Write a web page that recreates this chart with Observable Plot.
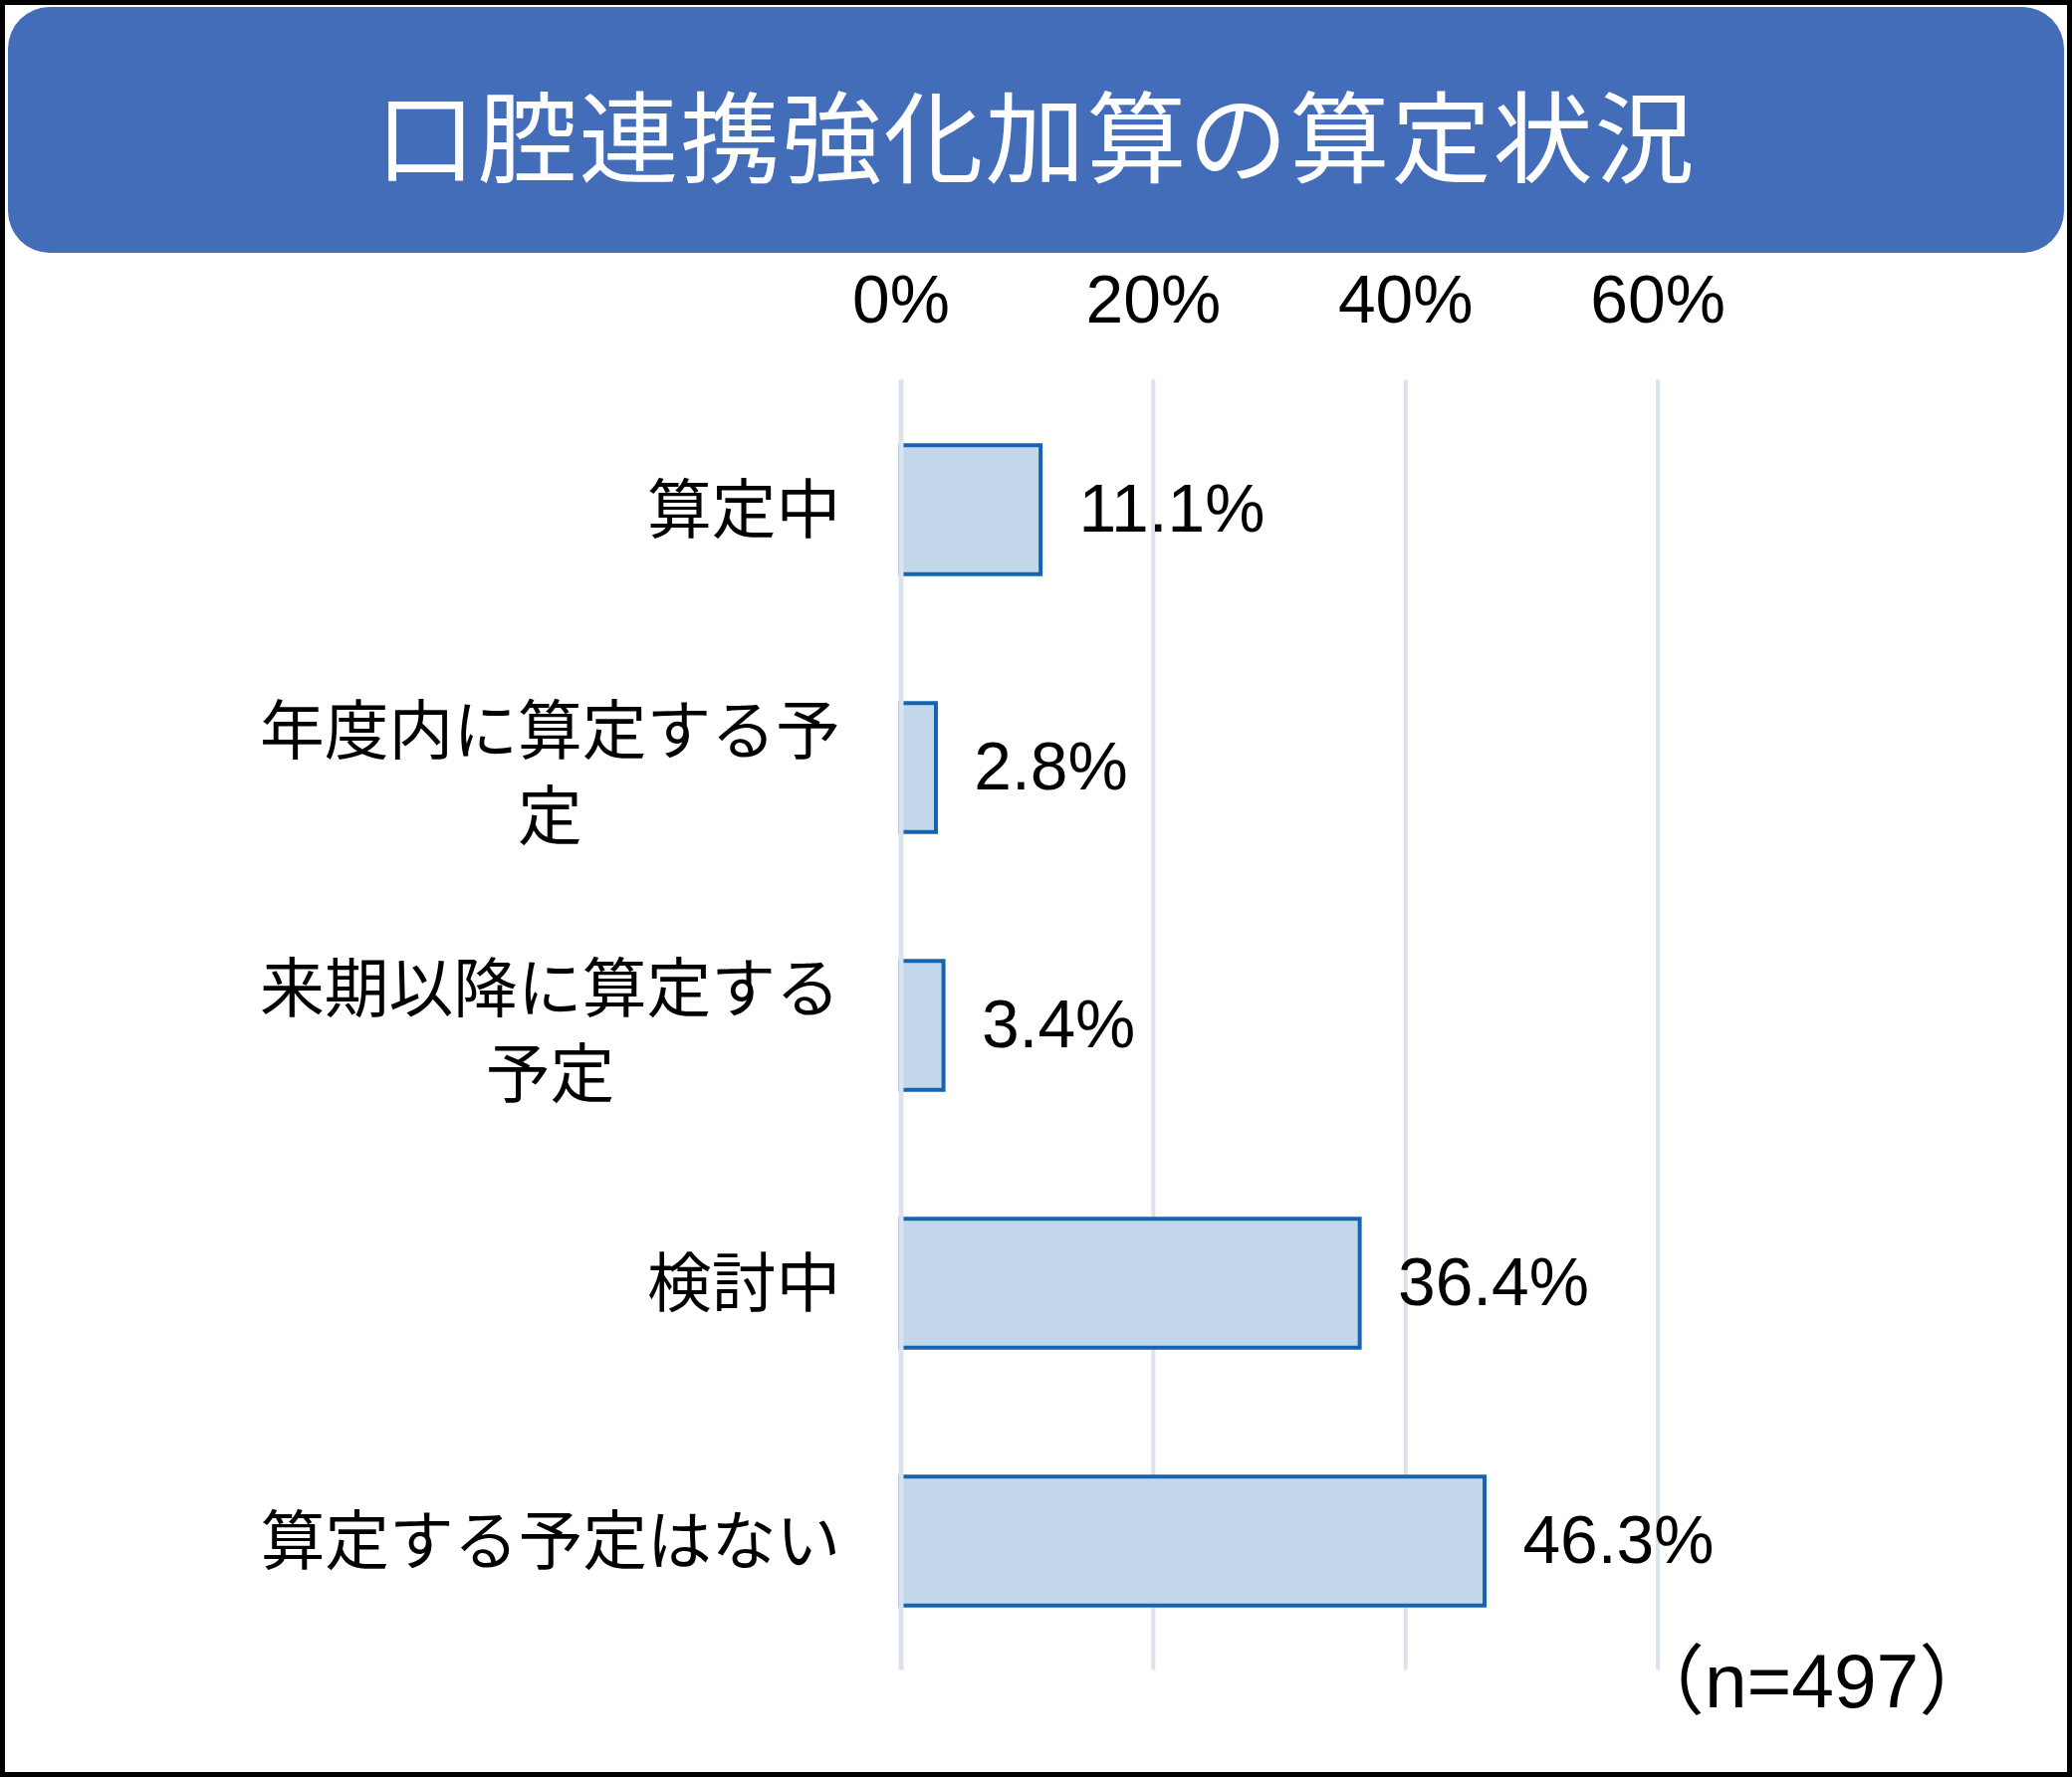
<!DOCTYPE html>
<html>
<head>
<meta charset="utf-8">
<script src="https://cdn.jsdelivr.net/npm/d3@7"></script>
<script src="https://cdn.jsdelivr.net/npm/@observablehq/plot@0.6"></script>
<style>
  html, body { margin: 0; padding: 0; background: #fff; }
  #frame {
    position: relative; width: 2081px; height: 1785px; box-sizing: border-box;
    border: 5px solid #000; background: #fff; overflow: hidden;
  }
  #banner {
    position: absolute; left: 3px; top: 2px; width: 2065px; height: 247px;
    background: #436CB9; border-radius: 42px;
    display: flex; align-items: center; justify-content: center;
    color: #fff; font-family: "Noto Sans CJK JP", sans-serif; font-size: 100px;
    letter-spacing: 2px; padding-top: 4px; box-sizing: border-box;
  }
  #chart { position: absolute; left: -2px; top: 250px; }
</style>
</head>
<body>
<div id="frame">
  <div id="banner">口腔連携強化加算の算定状況</div>
  <div id="chart"></div>
</div>
<script>
const categories = ["算定中", "年度内に算定する予定", "来期以降に算定する予定", "検討中", "算定する予定はない"];
const values = [11.1, 2.8, 3.4, 36.4, 46.3];
const labelLines = ["算定中", "年度内に算定する予\n定", "来期以降に算定する\n予定", "検討中", "算定する予定はない"];
const xTicks = [0, 20, 40, 60];
const note = "（n=497）";

const data = categories.map((c, i) => ({cat: c, value: values[i], label: labelLines[i]}));
const single = data.filter(d => !d.label.includes("\n"));
const multi = data.filter(d => d.label.includes("\n"));

const latin = "'Liberation Sans', Arial, 'Noto Sans CJK JP', sans-serif";
const cjk = "'Noto Sans CJK JP', sans-serif";
const gridColor = "#DCE2EB";

const chart = Plot.plot({
  width: 2081,
  height: 1525,
  marginLeft: 905,
  marginRight: 413,
  marginTop: 127,
  marginBottom: 97,
  style: {background: "transparent", fontFamily: latin, color: "#000"},
  x: {domain: [0, 60], label: null},
  y: {type: "band", domain: categories, paddingInner: 0.5, paddingOuter: 0.25, axis: null, label: null},
  marks: [
    Plot.gridX(xTicks, {stroke: gridColor, strokeOpacity: 1, strokeWidth: 4}),
    Plot.axisX(xTicks, {anchor: "top", tickSize: 0, tickPadding: 58, fontSize: 68, label: null,
      tickFormat: d => d + "%", fill: "#000", fontFamily: latin}),
    Plot.barX(data, {x: "value", y: "cat", fill: "#C3D7EB", stroke: "#1664B1", strokeWidth: 4}),
    Plot.ruleX([0], {stroke: gridColor, strokeWidth: 5}),
    Plot.text(data, {x: "value", y: "cat", text: d => d.value.toFixed(1) + "%",
      textAnchor: "start", dx: 38, fontSize: 68, fill: "#000", fontFamily: latin}),
    Plot.text(single, {y: "cat", frameAnchor: "left", text: "label", textAnchor: "end",
      dx: -61, dy: 2, fontSize: 65, fill: "#000", fontFamily: cjk}),
    Plot.text(multi, {y: "cat", frameAnchor: "left", text: "label", textAnchor: "middle",
      lineAnchor: "middle", lineHeight: 1.33, dx: -354, dy: 1, fontSize: 65, fill: "#000", fontFamily: cjk}),
    Plot.text([note], {frameAnchor: "bottom-right", text: d => d, textAnchor: "start",
      lineAnchor: "middle", dx: -30, dy: 13, fontSize: 77, fill: "#000", fontFamily: latin})
  ]
});
document.getElementById("chart").appendChild(chart);
</script>
</body>
</html>
